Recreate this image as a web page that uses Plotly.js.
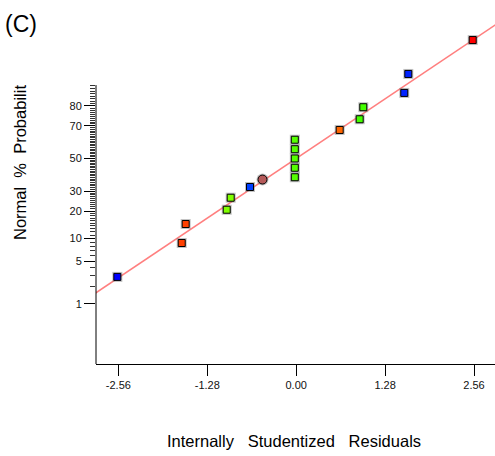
<!DOCTYPE html>
<html>
<head>
<meta charset="utf-8">
<script src="https://cdn.plot.ly/plotly-3.0.1.min.js"></script>
<style>
  html, body { margin: 0; padding: 0; background: #ffffff; }
  #chart { width: 495px; height: 456px; }
</style>
</head>
<body>
<div id="chart"></div>
<script>
// Internally studentized residuals, sorted, with their normal % probability
const residuals = [-2.575, -1.648, -1.591, -1.000, -0.943, -0.665, -0.02, -0.02, -0.02, -0.02, -0.02, 0.626, 0.914, 0.966, 1.556, 1.614, 2.541];
const normalPct = [2.9, 8.8, 14.7, 20.6, 26.5, 32.4, 38.2, 44.1, 50.0, 55.9, 61.8, 67.6, 73.5, 79.4, 85.3, 91.2, 97.1];
const pointColors = ['#0000ff', '#ff4000', '#ff4000', '#80ff00', '#80ff00', '#0040ff',
                     '#55ff00', '#55ff00', '#55ff00', '#55ff00', '#55ff00',
                     '#ff6600', '#44ff00', '#44ff00', '#0022ff', '#0022ff', '#ff0000'];

// Highlighted run (round marker)
const highlightResidual = [-0.485];
const highlightPct = [36.8];

// Reference line through the residuals (probit = slope * residual)
const fitSlope = 0.746;
const fitResidualEnds = [-3.0, 3.0];

// Axis ticks
const xTickVals = [-2.56, -1.28, 0.0, 1.28, 2.56];
const xTickText = ['-2.56', '-1.28', '0.00', '1.28', '2.56'];
const yMajorPct = [1, 5, 10, 20, 30, 50, 70, 80];
const yMinorTopPct = 88;

// Inverse standard normal CDF (Acklam's rational approximation)
function probit(p) {
  const a = [-3.969683028665376e+01, 2.209460984245205e+02, -2.759285104469687e+02, 1.383577518672690e+02, -3.066479806614716e+01, 2.506628277459239e+00];
  const b = [-5.447609879822406e+01, 1.615858368580409e+02, -1.556989798598866e+02, 6.680131188771972e+01, -1.328068155288572e+01];
  const c = [-7.784894002430293e-03, -3.223964580411365e-01, -2.400758277161838e+00, -2.549732539343734e+00, 4.374664141464968e+00, 2.938163982698783e+00];
  const d = [7.784695709041462e-03, 3.224671290700398e-01, 2.445134137142996e+00, 3.754408661907416e+00];
  const plow = 0.02425, phigh = 1 - plow;
  let q, r;
  if (p < plow) {
    q = Math.sqrt(-2 * Math.log(p));
    return (((((c[0]*q + c[1])*q + c[2])*q + c[3])*q + c[4])*q + c[5]) /
           ((((d[0]*q + d[1])*q + d[2])*q + d[3])*q + 1);
  }
  if (p <= phigh) {
    q = p - 0.5; r = q * q;
    return (((((a[0]*r + a[1])*r + a[2])*r + a[3])*r + a[4])*r + a[5]) * q /
           (((((b[0]*r + b[1])*r + b[2])*r + b[3])*r + b[4])*r + 1);
  }
  q = Math.sqrt(-2 * Math.log(1 - p));
  return -(((((c[0]*q + c[1])*q + c[2])*q + c[3])*q + c[4])*q + c[5]) /
          ((((d[0]*q + d[1])*q + d[2])*q + d[3])*q + 1);
}
const toZ = pct => probit(pct / 100);

const yMinorPct = [];
for (let p = 1; p <= yMinorTopPct; p++) if (!yMajorPct.includes(p)) yMinorPct.push(p);

const W = 495, H = 456;
const M = { l: 96, r: 0, t: 0, b: 92 };
const plotW = W - M.l - M.r, plotH = H - M.t - M.b;
const xRange = [-2.882, 2.862];
const yRange = [-3.290, 2.537];

// pixel -> paper helpers for the free-standing texts
const px2paperX = px => (px - M.l) / plotW;
const px2paperY = py => (H - M.b - py) / plotH;

const haloColor = 'rgba(120,120,120,0.45)';

const traces = [
  {
    x: fitResidualEnds, y: fitResidualEnds.map(v => v * fitSlope),
    type: 'scatter', mode: 'lines',
    line: { color: '#ff7f7f', width: 1.6 },
    hoverinfo: 'skip'
  },
  {
    x: residuals, y: normalPct.map(toZ),
    type: 'scatter', mode: 'markers', cliponaxis: false,
    marker: { symbol: 'square', size: 10, color: haloColor },
    hoverinfo: 'skip'
  },
  {
    x: residuals, y: normalPct.map(toZ),
    type: 'scatter', mode: 'markers', cliponaxis: false,
    marker: { symbol: 'square', size: 7, color: pointColors, line: { color: '#000000', width: 1 } },
    text: normalPct.map(v => v + '%'),
    hovertemplate: '%{x:.2f}, %{text}<extra></extra>'
  },
  {
    x: highlightResidual, y: highlightPct.map(toZ),
    type: 'scatter', mode: 'markers', cliponaxis: false,
    marker: { symbol: 'circle', size: 12, color: haloColor },
    hoverinfo: 'skip'
  },
  {
    x: highlightResidual, y: highlightPct.map(toZ),
    type: 'scatter', mode: 'markers', cliponaxis: false,
    marker: { symbol: 'circle', size: 9, color: '#b55a5a', line: { color: '#000000', width: 1 } },
    text: highlightPct.map(v => v + '%'),
    hovertemplate: '%{x:.2f}, %{text}<extra></extra>'
  }
];

const tickFont = { family: 'Liberation Sans, Arial, sans-serif', size: 11, color: '#111111' };
const titleFont = { family: 'Liberation Sans, Arial, sans-serif', size: 16, color: '#000000' };
const gap = '\u00a0\u00a0\u00a0\u00a0';

const layout = {
  width: W, height: H,
  margin: M,
  paper_bgcolor: '#ffffff', plot_bgcolor: '#ffffff',
  showlegend: false,
  xaxis: {
    range: xRange, showgrid: false, zeroline: false,
    showline: true, linecolor: '#000000', linewidth: 1,
    tickmode: 'array', tickvals: xTickVals, ticktext: xTickText,
    ticks: 'outside', ticklen: 11, tickwidth: 1, tickcolor: '#000000',
    tickfont: tickFont
  },
  yaxis: {
    range: yRange, showgrid: false, zeroline: false, showline: false,
    tickmode: 'array', tickvals: yMajorPct.map(toZ), ticktext: yMajorPct.map(String),
    ticks: 'outside', ticklen: 11, tickwidth: 1, tickcolor: '#000000',
    tickfont: tickFont,
    minor: {
      tickmode: 'array', tickvals: yMinorPct.map(toZ),
      ticks: 'outside', ticklen: 5, tickwidth: 1, tickcolor: '#333333', showgrid: false
    }
  },
  shapes: [{
    type: 'line', xref: 'paper', yref: 'y',
    x0: 0, x1: 0, y0: yRange[0], y1: toZ(yMinorTopPct),
    line: { color: '#000000', width: 1 }
  }],
  annotations: [
    {
      text: '(C)', xref: 'paper', yref: 'paper',
      x: px2paperX(21), y: px2paperY(24), xanchor: 'center', yanchor: 'middle',
      showarrow: false,
      font: { family: 'Liberation Sans Narrow, Liberation Sans, Arial, sans-serif', size: 23, color: '#000000' }
    },
    {
      text: 'Normal' + '\u00a0\u00a0' + '%' + '\u00a0\u00a0' + 'Probabilit',
      xref: 'paper', yref: 'paper',
      x: px2paperX(20), y: px2paperY(163), xanchor: 'center', yanchor: 'middle',
      textangle: -90, showarrow: false,
      font: { family: 'Liberation Sans, Arial, sans-serif', size: 16.5, color: '#000000' }
    },
    {
      text: 'Internally' + '\u00a0\u00a0\u00a0' + 'Studentized' + '\u00a0\u00a0\u00a0' + 'Residuals',
      xref: 'paper', yref: 'paper',
      x: px2paperX(294), y: px2paperY(441), xanchor: 'center', yanchor: 'middle',
      showarrow: false,
      font: { family: 'Liberation Sans, Arial, sans-serif', size: 16.5, color: '#000000' }
    }
  ]
};

Plotly.newPlot('chart', traces, layout, { staticPlot: true, displayModeBar: false });
</script>
</body>
</html>
